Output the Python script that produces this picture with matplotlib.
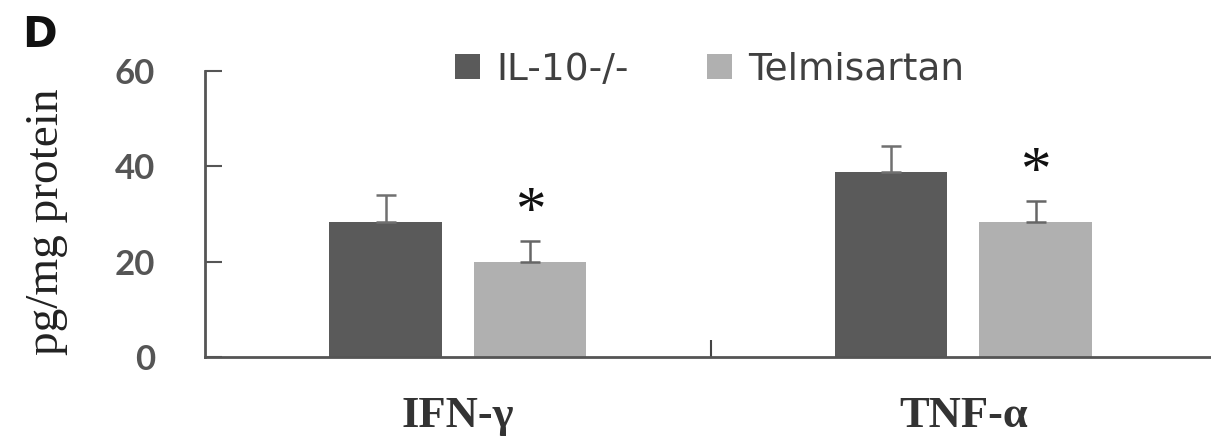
import numpy as np
import matplotlib
matplotlib.use("Agg")
import matplotlib.pyplot as plt

# cytokine levels (pg/mg protein), mean and SD
cytokines = ["IFN-\u03b3", "TNF-\u03b1"]
groups = ["IL-10-/-", "Telmisartan"]
il10_mean = [28.3, 38.8]
il10_sd = [5.7, 5.4]
telmi_mean = [20.0, 28.3]
telmi_sd = [4.3, 4.4]
significant = ["*", "*"]

colors = ["#5a5a5a", "#b0b0b0"]
sans = "Lato"
serif = "Liberation Serif"

fig = plt.figure(figsize=(12.11, 4.42), dpi=100)
ax = fig.add_axes([0.1693, 0.1923, 0.835, 0.6471])

x = np.arange(len(cytokines))
w = 0.223
off = 0.143
b1 = ax.bar(x - off, il10_mean, w, color=colors[0], label=groups[0])
b2 = ax.bar(x + off, telmi_mean, w, color=colors[1], label=groups[1])

# upper error bars only
ax.errorbar(x - off, il10_mean, yerr=[np.zeros(2), il10_sd], fmt="none",
            ecolor="#707070", elinewidth=1.8, capsize=7, capthick=1.8)
ax.errorbar(x + off, telmi_mean, yerr=[np.zeros(2), telmi_sd], fmt="none",
            ecolor="#666666", elinewidth=1.8, capsize=7, capthick=1.8)

for xi, m, s, mark in zip(x, telmi_mean, telmi_sd, significant):
    ax.text(xi + off, m + s + 5.8, mark, ha="center", va="center",
            fontsize=44, family=serif, color="#111111")

ax.set_xlim(-0.5, 1.5)
ax.set_ylim(0, 60)
ax.set_yticks([0, 20, 40, 60])
ax.set_xticks(x)
ax.set_xticklabels(cytokines, family=serif, fontweight="bold", fontsize=32, color="#333333")
ax.set_xticks([0.5], minor=True)
ax.tick_params(axis="x", which="major", length=0, pad=28)
ax.tick_params(axis="x", which="minor", direction="in", length=12, width=1.5, color="#444444")
ax.tick_params(axis="y", direction="in", length=12, width=1.5, color="#555555", pad=36,
               labelsize=25, labelcolor="#555555")
for lab in ax.get_yticklabels():
    lab.set_family(sans)
    lab.set_fontweight("bold")

for side in ["top", "right"]:
    ax.spines[side].set_visible(False)
for side in ["left", "bottom"]:
    ax.spines[side].set_color("#555555")
    ax.spines[side].set_linewidth(2)

fig.text(0.039, 0.498, "pg/mg protein", rotation=90, ha="center", va="center",
         family=serif, fontsize=34, color="#222222")
fig.text(0.018, 0.921, "D", family="DejaVu Sans", fontweight="bold", fontsize=30,
         color="#111111", ha="left", va="center")

fig.legend(handles=[b1, b2], labels=groups, loc="center", bbox_to_anchor=(0.586, 0.842),
           ncol=2, frameon=False, prop={"family": "DejaVu Sans", "size": 27},
           handlelength=0.67, handleheight=0.67, handletextpad=0.43, columnspacing=2.1,
           labelcolor="#404040")

fig.savefig("out.png", dpi=100)
